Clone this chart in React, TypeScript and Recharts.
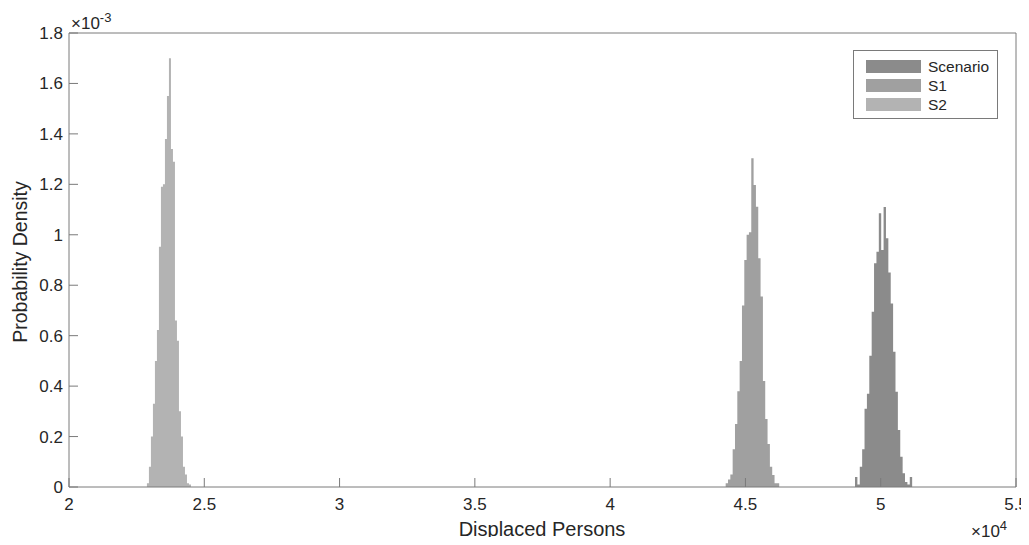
import { ComposedChart, Area, XAxis, YAxis, Legend } from 'recharts';

// histogram bins: left edges (+ final right edge), density per bin in units of 1e-3
const scenarioEdges = [49050, 49138, 49226, 49314, 49402, 49490, 49578, 49666, 49754, 49842, 49930, 50018, 50106, 50194, 50282, 50370, 50458, 50546, 50634, 50722, 50810, 50898, 50986, 51074, 51162];
const scenarioDensity = [0.04, 0.01, 0.08, 0.15, 0.31, 0.37, 0.52, 0.695, 0.887, 0.933, 1.085, 0.94, 1.11, 0.986, 0.85, 0.728, 0.536, 0.378, 0.226, 0.12, 0.055, 0.02, 0.01, 0.04];

const s1Edges = [44270, 44356, 44442, 44528, 44614, 44700, 44786, 44872, 44958, 45044, 45130, 45216, 45302, 45388, 45474, 45560, 45646, 45732, 45818, 45904, 45990, 46076, 46162, 46248];
const s1Density = [0.015, 0.03, 0.05, 0.15, 0.25, 0.38, 0.5, 0.72, 0.9, 1.0, 1.01, 1.303, 1.197, 1.111, 0.907, 0.755, 0.42, 0.27, 0.17, 0.08, 0.048, 0.015, 0.015];

const s2Edges = [22880, 22954, 23028, 23102, 23176, 23250, 23324, 23398, 23472, 23546, 23620, 23694, 23768, 23842, 23916, 23990, 24064, 24138, 24212, 24286, 24360, 24434, 24508];
const s2Density = [0.015, 0.08, 0.2, 0.33, 0.5, 0.622, 0.953, 1.19, 1.2, 1.38, 1.55, 1.7, 1.34, 1.29, 0.66, 0.58, 0.3, 0.2, 0.08, 0.05, 0.015, 0.01];

const seriesNames = ['Scenario', 'S1', 'S2'];
const seriesColors = ['#8b8b8b', '#a0a0a0', '#b3b3b3'];

const xTicks = [20000, 25000, 30000, 35000, 40000, 45000, 50000, 55000];
const xTickLabels = ['2', '2.5', '3', '3.5', '4', '4.5', '5', '5.5'];
const yTicks = [0, 0.2, 0.4, 0.6, 0.8, 1, 1.2, 1.4, 1.6, 1.8];
const yTickLabels = ['0', '0.2', '0.4', '0.6', '0.8', '1', '1.2', '1.4', '1.6', '1.8'];

const FONT = '"Liberation Sans", Arial, Helvetica, sans-serif';
const AXIS = '#7a7a7a';
const TEXT = '#262626';

function toSteps(edges: number[], density: number[]) {
  const pts = density.map((d, i) => ({ x: edges[i], y: d }));
  pts.push({ x: edges[edges.length - 1], y: 0 });
  return pts;
}

const seriesData = [
  toSteps(scenarioEdges, scenarioDensity),
  toSteps(s1Edges, s1Density),
  toSteps(s2Edges, s2Density),
];

const HistLegend = () => (
  <div
    style={{
      width: 145,
      height: 69,
      border: `1px solid ${AXIS}`,
      background: '#fff',
      fontFamily: FONT,
      fontSize: 15.5,
      color: TEXT,
      paddingTop: 6,
      boxSizing: 'border-box',
    }}
  >
    {seriesNames.map((name, i) => (
      <div key={name} style={{ display: 'flex', alignItems: 'center', height: 19 }}>
        <div style={{ width: 55, height: 13, marginLeft: 12, background: seriesColors[i] }} />
        <span style={{ marginLeft: 7, lineHeight: '19px' }}>{name}</span>
      </div>
    ))}
  </div>
);

export default function App() {
  return (
    <div style={{ position: 'relative', width: 1021, height: 529, fontFamily: FONT }}>
      <ComposedChart width={1021} height={529} margin={{ top: 24, right: 12, bottom: 0, left: 0 }}>
        <XAxis
          xAxisId="b"
          type="number"
          dataKey="x"
          domain={[20000, 55000]}
          ticks={xTicks}
          interval={0}
          allowDataOverflow
          tickFormatter={(_v: number, i: number) => xTickLabels[i]}
          height={50}
          stroke={AXIS}
          tickSize={-9}
          tickMargin={20}
          tick={{ fill: TEXT, fontSize: 17, fontFamily: FONT }}
        />
        <XAxis
          xAxisId="t"
          orientation="top"
          type="number"
          dataKey="x"
          domain={[20000, 55000]}
          ticks={xTicks}
          interval={0}
          allowDataOverflow
          height={1}
          stroke={AXIS}
          tickSize={-9}
          tick={false}
        />
        <YAxis
          yAxisId="l"
          type="number"
          domain={[0, 1.8]}
          ticks={yTicks}
          interval={0}
          allowDataOverflow
          tickFormatter={(_v: number, i: number) => yTickLabels[i]}
          width={61}
          stroke={AXIS}
          tickSize={-9}
          tickMargin={15}
          tick={{ fill: TEXT, fontSize: 17, fontFamily: FONT }}
        />
        <YAxis
          yAxisId="r"
          orientation="right"
          type="number"
          domain={[0, 1.8]}
          ticks={yTicks}
          interval={0}
          allowDataOverflow
          width={1}
          stroke={AXIS}
          tickSize={-9}
          tick={false}
        />
        {seriesNames.map((name, i) => (
          <Area
            key={name}
            name={name}
            xAxisId="b"
            yAxisId="l"
            data={seriesData[i]}
            dataKey="y"
            type="stepAfter"
            stroke="none"
            fill={seriesColors[i]}
            fillOpacity={1}
            isAnimationActive={false}
          />
        ))}
        <Legend
          layout="vertical"
          align="center"
          verticalAlign="middle"
          content={<HistLegend />}
          wrapperStyle={{ left: 845, top: 42, width: 145, height: 69 }}
        />
      </ComposedChart>

      {/* axis labels and exponent notes */}
      <div style={{ position: 'absolute', left: 63, top: 2, fontSize: 17, color: TEXT, whiteSpace: 'nowrap' }}>
        ×10<sup style={{ fontSize: 13 }}>-3</sup>
      </div>
      <div style={{ position: 'absolute', left: 963, top: 510, fontSize: 17, color: TEXT, whiteSpace: 'nowrap' }}>
        ×10<sup style={{ fontSize: 13 }}>4</sup>
      </div>
      <div
        style={{
          position: 'absolute',
          left: 534,
          top: 521,
          transform: 'translate(-50%, -50%)',
          fontSize: 20,
          color: TEXT,
          whiteSpace: 'nowrap',
        }}
      >
        Displaced Persons
      </div>
      <div
        style={{
          position: 'absolute',
          left: 12,
          top: 254,
          transform: 'translate(-50%, -50%) rotate(-90deg)',
          fontSize: 19.5,
          color: TEXT,
          whiteSpace: 'nowrap',
        }}
      >
        Probability Density
      </div>
    </div>
  );
}
